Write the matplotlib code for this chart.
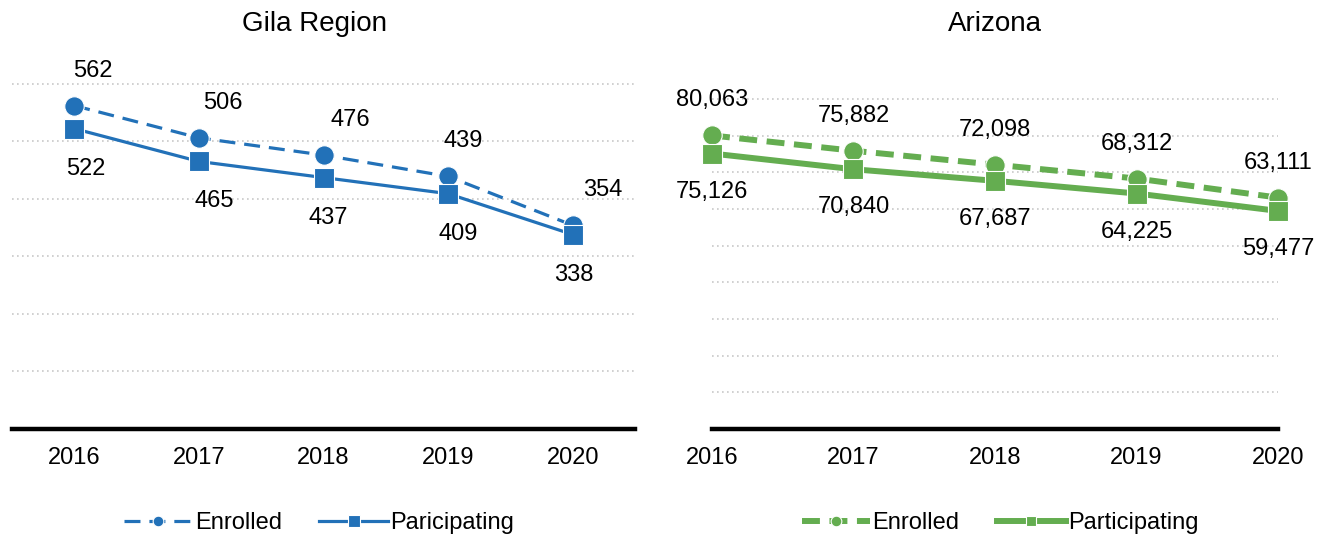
import numpy as np
import matplotlib.pyplot as plt

plt.rcParams['font.family'] = ['Liberation Sans', 'DejaVu Sans']

### DATA ###
years = ['2016', '2017', '2018', '2019', '2020']
gila_enrolled = [562, 506, 476, 439, 354]
gila_participating = [522, 465, 437, 409, 338]
az_enrolled = [80063, 75882, 72098, 68312, 63111]
az_participating = [75126, 70840, 67687, 64225, 59477]

blue = '#2271b8'
green = '#64ad50'
grid_c = '#c8c8c8'
fs = 17

fig = plt.figure(figsize=(13.25, 5.39), dpi=100)

ax1 = fig.add_axes([12/1325, 1 - 429/539, 623/1325, 374/539])
ax2 = fig.add_axes([712/1325, 1 - 429/539, 566/1325, 374/539])


def style_axis(ax, gridvals, title, ylim, xlim, title_x=0.5):
    ax.set_xlim(*xlim)
    ax.set_ylim(*ylim)
    for g in gridvals:
        ax.axhline(g, color=grid_c, lw=1.2, ls=(0, (1, 2)), zorder=0)
    for s in ['top', 'right', 'left']:
        ax.spines[s].set_visible(False)
    ax.spines['bottom'].set_linewidth(3.2)
    ax.spines['bottom'].set_color('black')
    ax.set_yticks([])
    ax.set_xticks(range(len(years)))
    ax.set_xticklabels(years, fontsize=fs)
    ax.tick_params(axis='x', length=0, pad=13)
    ax.set_title(title, fontsize=20, pad=0, y=1 + 24/374, x=title_x)


x = np.arange(len(years))

### GILA ###
style_axis(ax1, range(100, 700, 100), 'Gila Region', (0, 650), (-0.5, 4.5),
           title_x=(315 - 12)/623)
ax1.plot(x, gila_enrolled, color=blue, lw=2.3, ls=(0, (5, 2.8)), marker='o',
         ms=14, mec='white', mew=0.8, label='Enrolled', zorder=3)
ax1.plot(x, gila_participating, color=blue, lw=2.3, marker='s',
         ms=15, mec='white', mew=0.8, label='Paricipating', zorder=4)
up_dx = [19, 24, 27, 15, 30]
dn_dx = [11, 15, 5, 10, 1]
for i in range(len(years)):
    ax1.annotate(f'{gila_enrolled[i]:,}', (x[i], gila_enrolled[i]),
                 xytext=(up_dx[i]*0.72, 35*0.72), textcoords='offset points',
                 ha='center', va='center', fontsize=fs)
    ax1.annotate(f'{gila_participating[i]:,}', (x[i], gila_participating[i]),
                 xytext=(dn_dx[i]*0.72, -40*0.72), textcoords='offset points',
                 ha='center', va='center', fontsize=fs)
ax1.legend(loc='center', bbox_to_anchor=(307/623, (429-523)/374), ncol=2,
           frameon=False, fontsize=fs, handlelength=2.9, markerscale=0.55,
           columnspacing=1.6, handletextpad=0.1)

### ARIZONA ###
style_axis(ax2, range(10000, 100000, 10000), 'Arizona', (0, 102000), (0, 4))
ax2.plot(x, az_enrolled, color=green, lw=4.3, ls=(0, (3, 1.6)), marker='o',
         ms=14, mec='white', mew=0.8, label='Enrolled', zorder=3, clip_on=False)
ax2.plot(x, az_participating, color=green, lw=4.3, marker='s',
         ms=14, mec='white', mew=0.8, label='Participating', zorder=4, clip_on=False)
for i in range(len(years)):
    ax2.annotate(f'{az_enrolled[i]:,}', (x[i], az_enrolled[i]),
                 xytext=(0, 35*0.72), textcoords='offset points',
                 ha='center', va='center', fontsize=fs)
    ax2.annotate(f'{az_participating[i]:,}', (x[i], az_participating[i]),
                 xytext=(0, -38*0.72), textcoords='offset points',
                 ha='center', va='center', fontsize=fs)
ax2.legend(loc='center', bbox_to_anchor=((1000-712)/566, (429-523)/374), ncol=2,
           frameon=False, fontsize=fs, handlelength=2.9, markerscale=0.55,
           columnspacing=1.6, handletextpad=0.1)

fig.savefig('out.png', dpi=100)
